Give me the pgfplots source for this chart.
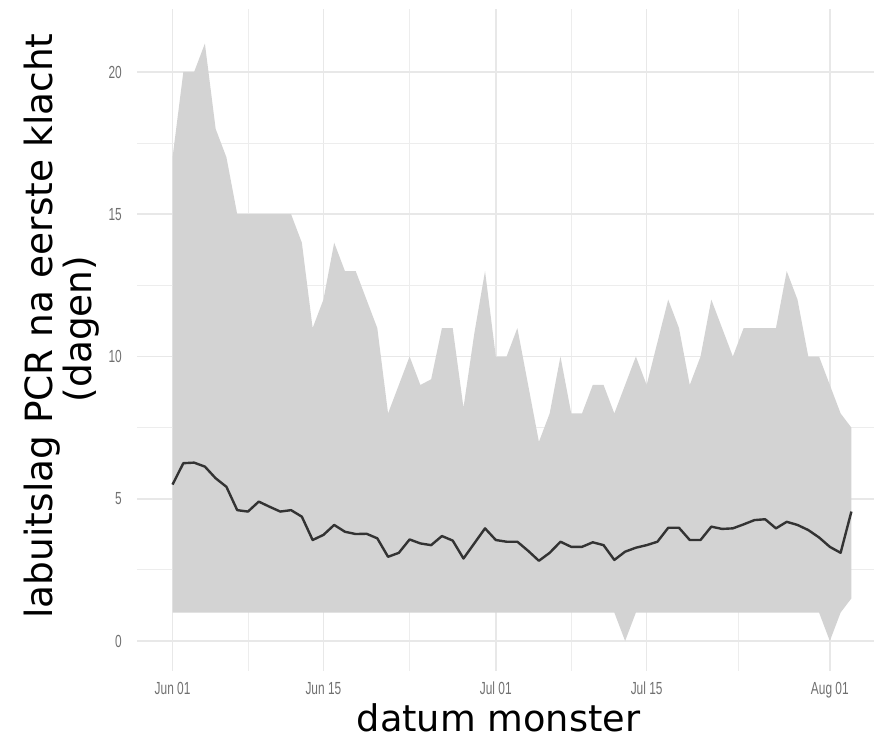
\documentclass[border=0pt]{standalone}
\usepackage{pgfplots}
\pgfplotsset{compat=1.18}
\usepackage{pgfplotstable}
\usepgfplotslibrary{fillbetween}
\usepackage{fontspec}
\setmainfont{DejaVu Sans}
\newfontfamily\tickfont[FakeStretch=0.68]{Liberation Sans}
\definecolor{gridc}{HTML}{E8E8E8}
\definecolor{ribbonc}{HTML}{D3D3D3}
\definecolor{tickc}{HTML}{707070}
\definecolor{linec}{HTML}{333333}

\pgfplotstableread{
day up lo med
0 17 1 5.5
1 20 1 6.25
2 20 1 6.27
3 21 1 6.13
4 18 1 5.72
5 17 1 5.42
6 15 1 4.6
7 15 1 4.55
8 15 1 4.9
9 15 1 4.72
10 15 1 4.55
11 15 1 4.6
12 14 1 4.37
13 11 1 3.55
14 12 1 3.73
15 14 1 4.08
16 13 1 3.84
17 13 1 3.76
18 12 1 3.77
19 11 1 3.61
20 8 1 2.96
21 9 1 3.1
22 10 1 3.57
23 9 1 3.43
24 9.2 1 3.37
25 11 1 3.69
26 11 1 3.53
27 8.2 1 2.9
28 10.8 1 3.43
29 13 1 3.96
30 10 1 3.55
31 10 1 3.49
32 11 1 3.49
33 9 1 3.17
34 7 1 2.82
35 8 1 3.1
36 10 1 3.49
37 8 1 3.31
38 8 1 3.31
39 9 1 3.47
40 9 1 3.37
41 8 1 2.85
42 9 0 3.14
43 10 1 3.28
44 9 1 3.37
45 10.5 1 3.49
46 12 1 3.98
47 11 1 3.98
48 9 1 3.55
49 10 1 3.55
50 12 1 4.02
51 11 1 3.94
52 10 1 3.96
53 11 1 4.1
54 11 1 4.25
55 11 1 4.28
56 11 1 3.96
57 13 1 4.19
58 12 1 4.08
59 10 1 3.9
60 10 1 3.64
61 9 0 3.31
62 8 1 3.1
63 7.5 1.5 4.55
}\data

\begin{document}
\begin{tikzpicture}
\begin{axis}[
  at={(137pt,70.1pt)}, anchor=south west,
  scale only axis, width=737pt, height=661.5pt,
  xmin=-3.3, xmax=65.1, ymin=-1.05, ymax=22.2,
  axis line style={draw=none},
  tick style={draw=none},
  major tick length=0pt, minor tick length=0pt,
  xtick={0,14,30,44,61},
  xticklabels={Jun 01,Jun 15,Jul 01,Jul 15,Aug 01},
  minor xtick={7,22,37,52.5},
  ytick={0,5,10,15,20},
  yticklabels={0,5,10,15,20},
  minor ytick={2.5,7.5,12.5,17.5},
  grid=both,
  major grid style={draw=gridc, line width=1.5pt},
  minor grid style={draw=gridc!80, line width=0.8pt},
  tick label style={font=\tickfont\fontsize{17.5}{17.5}\selectfont, text=tickc, inner sep=0pt},
  xticklabel style={anchor=north, yshift=-11pt},
  yticklabel style={anchor=east, xshift=-15pt},
]
\addplot[name path=up, draw=none, forget plot] table[x=day, y=up] {\data};
\addplot[name path=lo, draw=none, forget plot] table[x=day, y=lo] {\data};
\addplot[fill=ribbonc, draw=none] fill between[of=up and lo];
\addplot[color=linec, line width=2.4pt, line join=round] table[x=day, y=med] {\data};
\end{axis}
\node[anchor=base, inner sep=0pt, font=\fontsize{36.7}{44}\selectfont] at (498.5pt,9.5pt) {datum monster};
\node[anchor=base, inner sep=0pt, rotate=90, font=\fontsize{37.5}{44}\selectfont] at (52pt,415pt) {labuitslag PCR na eerste klacht};
\node[anchor=base, inner sep=0pt, rotate=90, font=\fontsize{37.5}{44}\selectfont] at (91pt,412pt) {(dagen)};
\pgfresetboundingbox
\path[use as bounding box] (0pt,0pt) rectangle (874pt,741pt);
\end{tikzpicture}
\end{document}
